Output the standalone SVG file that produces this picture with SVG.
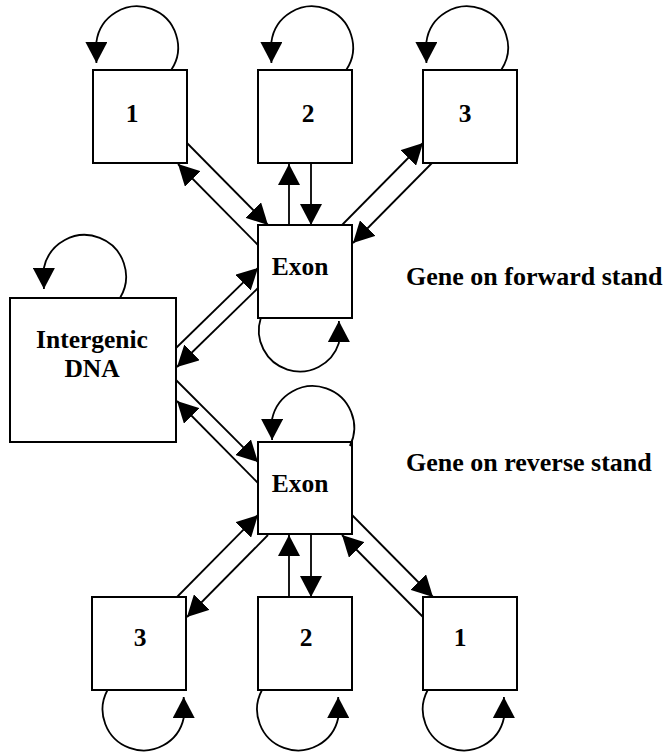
<svg xmlns="http://www.w3.org/2000/svg" width="666" height="752" viewBox="0 0 666 752">
<style>
.box{fill:#fff;stroke:#000;stroke-width:2}
.t{font-family:"Liberation Serif","Times New Roman",serif;font-weight:bold;font-size:25.5px;fill:#000;text-anchor:middle}
.lbl{font-family:"Liberation Serif","Times New Roman",serif;font-weight:bold;font-size:26px;fill:#000}
.c{fill:none;stroke:#000;stroke-width:1.8;marker-end:url(#ah)}
</style>
<defs>
<marker id="ah" viewBox="0 0 21 22" refX="21" refY="11" markerWidth="21" markerHeight="22" markerUnits="userSpaceOnUse" orient="auto">
<path d="M0,0 L21,11 L0,22 z" fill="#000"/>
</marker>
</defs>
<rect width="666" height="752" fill="#fff"/>
<g id="f1"><rect class="box" x="93" y="70" width="94" height="93"/><text class="t" x="132" y="122">1</text></g>
<g id="f2"><rect class="box" x="258" y="70" width="94" height="93"/><text class="t" x="308" y="122">2</text></g>
<g id="f3"><rect class="box" x="423" y="70" width="94" height="93"/><text class="t" x="465" y="122">3</text></g>
<g id="exonF"><rect class="box" x="258" y="225" width="94" height="93"/><text class="t" x="300" y="275">Exon</text></g>
<g id="intergenic"><rect class="box" x="10" y="298" width="166" height="144"/><text class="t" x="92" y="348">Intergenic</text><text class="t" x="92" y="377">DNA</text></g>
<g id="exonR"><rect class="box" x="258" y="442" width="94" height="92"/><text class="t" x="300" y="492">Exon</text></g>
<g id="r3"><rect class="box" x="92" y="597" width="94" height="93"/><text class="t" x="140" y="646">3</text></g>
<g id="r2"><rect class="box" x="258" y="597" width="94" height="93"/><text class="t" x="306" y="646">2</text></g>
<g id="r1"><rect class="box" x="423" y="597" width="94" height="93"/><text class="t" x="460" y="646">1</text></g>
<g id="labels">
<text class="lbl" x="406" y="285">Gene on forward stand</text>
<text class="lbl" x="406" y="471">Gene on reverse stand</text>
</g>
<g id="connectors">
<path class="c" d="M171.2,70 A41,41 0 1 0 96.4,42 L96.4,63"/>
<path class="c" d="M346.2,70 A41,41 0 1 0 271.4,42 L271.4,63"/>
<path class="c" d="M501.2,70 A41,41 0 1 0 426.4,42 L426.4,63"/>
<path class="c" d="M120,298 A41.5,41.5 0 1 0 43.9,268 L43.9,289"/>
<path class="c" d="M260.8,318 A41,41 0 0 0 338.9,343 L338.9,321"/>
<path class="c" d="M349.9,446 A41.5,41.5 0 1 0 272.1,419 L272.1,440"/>
<path class="c" d="M262,690 A41,41 0 1 0 338.2,718 L338.2,697"/>
<path class="c" d="M427.7,690 A41,41 0 1 0 503.9,718 L503.9,697"/>
<path class="c" d="M107.5,690 A41,41 0 1 0 183.7,718 L183.7,697"/>
<path class="c" d="M187,143 L268,225"/>
<path class="c" d="M258,245 L178,164"/>
<path class="c" d="M289,225 L289,164"/>
<path class="c" d="M311,163 L311,225"/>
<path class="c" d="M342,225 L423,143"/>
<path class="c" d="M432,163 L353,243"/>
<path class="c" d="M176,348 L258,268"/>
<path class="c" d="M258,288 L177,367"/>
<path class="c" d="M176,380 L258,462"/>
<path class="c" d="M258,483 L177,401"/>
<path class="c" d="M177,597 L258,515"/>
<path class="c" d="M268,535 L187,617"/>
<path class="c" d="M289,597 L289,535"/>
<path class="c" d="M311,534 L311,597"/>
<path class="c" d="M352,515 L433,597"/>
<path class="c" d="M423,617 L342,535"/>
</g>
</svg>
